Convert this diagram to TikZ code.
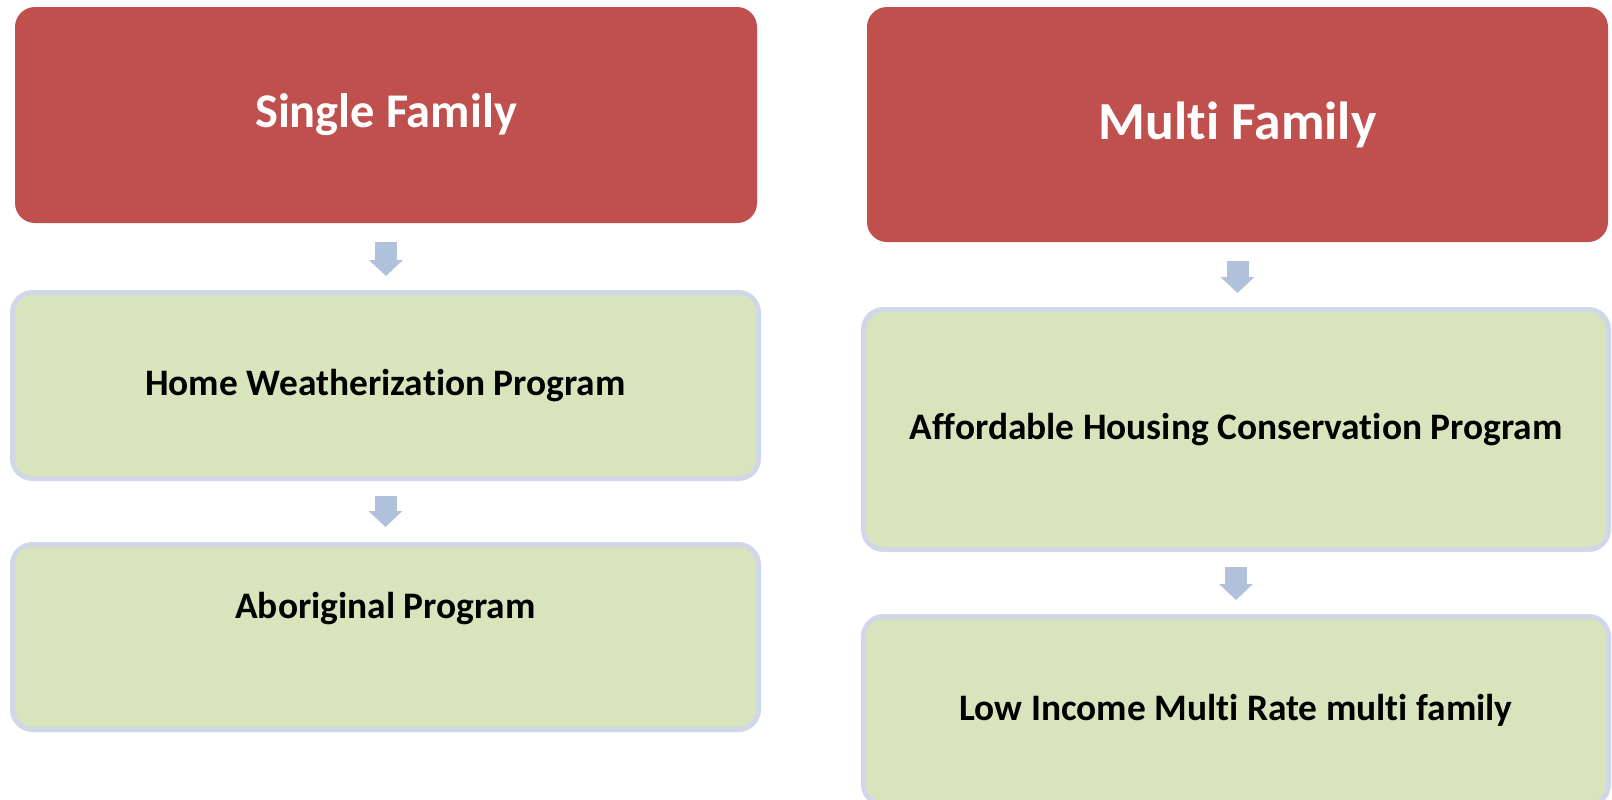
\documentclass[tikz,border=0pt]{standalone}
\usepackage{fontspec}
\setmainfont{Carlito}[Ligatures={NoCommon}, Contextuals=NoAlternate, RawFeature={-clig}]
\usetikzlibrary{arrows.meta}
\definecolor{hdr}{HTML}{C0504D}
\definecolor{prog}{HTML}{D8E4BC}
\definecolor{progline}{HTML}{D0D8E8}
\definecolor{arr}{HTML}{B0C1DC}
\begin{document}
\begin{tikzpicture}[x=0.5pt,y=-0.5pt,
  hdrbox/.style={fill=hdr, rounded corners=10pt, inner sep=0pt, text=white, font=\bfseries},
  progfont/.style={font=\bfseries\fontsize{18.7}{22}\selectfont},
  progbox/.style={fill=prog, draw=progline, line width=2.5pt, rounded corners=10pt, inner sep=0pt, progfont},
  flow/.style={draw=arr, line width=11pt, -{Triangle[width=16.5pt,length=8pt]}}]
\useasboundingbox (0,0) rectangle (1612,799);
% left column
\node[hdrbox, minimum width=371pt, minimum height=108pt, font=\bfseries\fontsize{24.2}{28}\selectfont] (r1) at (386,115) {Single Family};
\node[progbox, minimum width=373pt, minimum height=93pt] (g1) at (385.5,385.5) {Home Weatherization Program};
\node[progbox, minimum width=373pt, minimum height=92.5pt,
  label={[progfont, yshift=14pt]center:Aboriginal Program}] (g2) at (385.5,637) {};
% right column
\node[hdrbox, minimum width=370.5pt, minimum height=117.5pt, font=\bfseries\fontsize{26.8}{30}\selectfont] (r2) at (1237.5,124.5) {Multi Family};
\node[progbox, minimum width=372.5pt, minimum height=120pt] (g3) at (1236,429.5) {Affordable Housing Conservation Program};
\node[progbox, minimum width=372.5pt, minimum height=94pt] (g4) at (1236,710.5) {Low Income Multi Rate multi family};
% connectors
\draw[flow, shorten <=9.5pt, shorten >=7pt] (r1.south) -- (r1.south |- g1.north);
\draw[flow, shorten <=7.5pt, shorten >=7.5pt] (g1.south) -- (g2.north);
\draw[flow, shorten <=9.5pt, shorten >=7pt] (r2.south) -- (r2.south |- g3.north);
\draw[flow, shorten <=7.5pt, shorten >=7pt] (g3.south) -- (g4.north);
\end{tikzpicture}
\end{document}
